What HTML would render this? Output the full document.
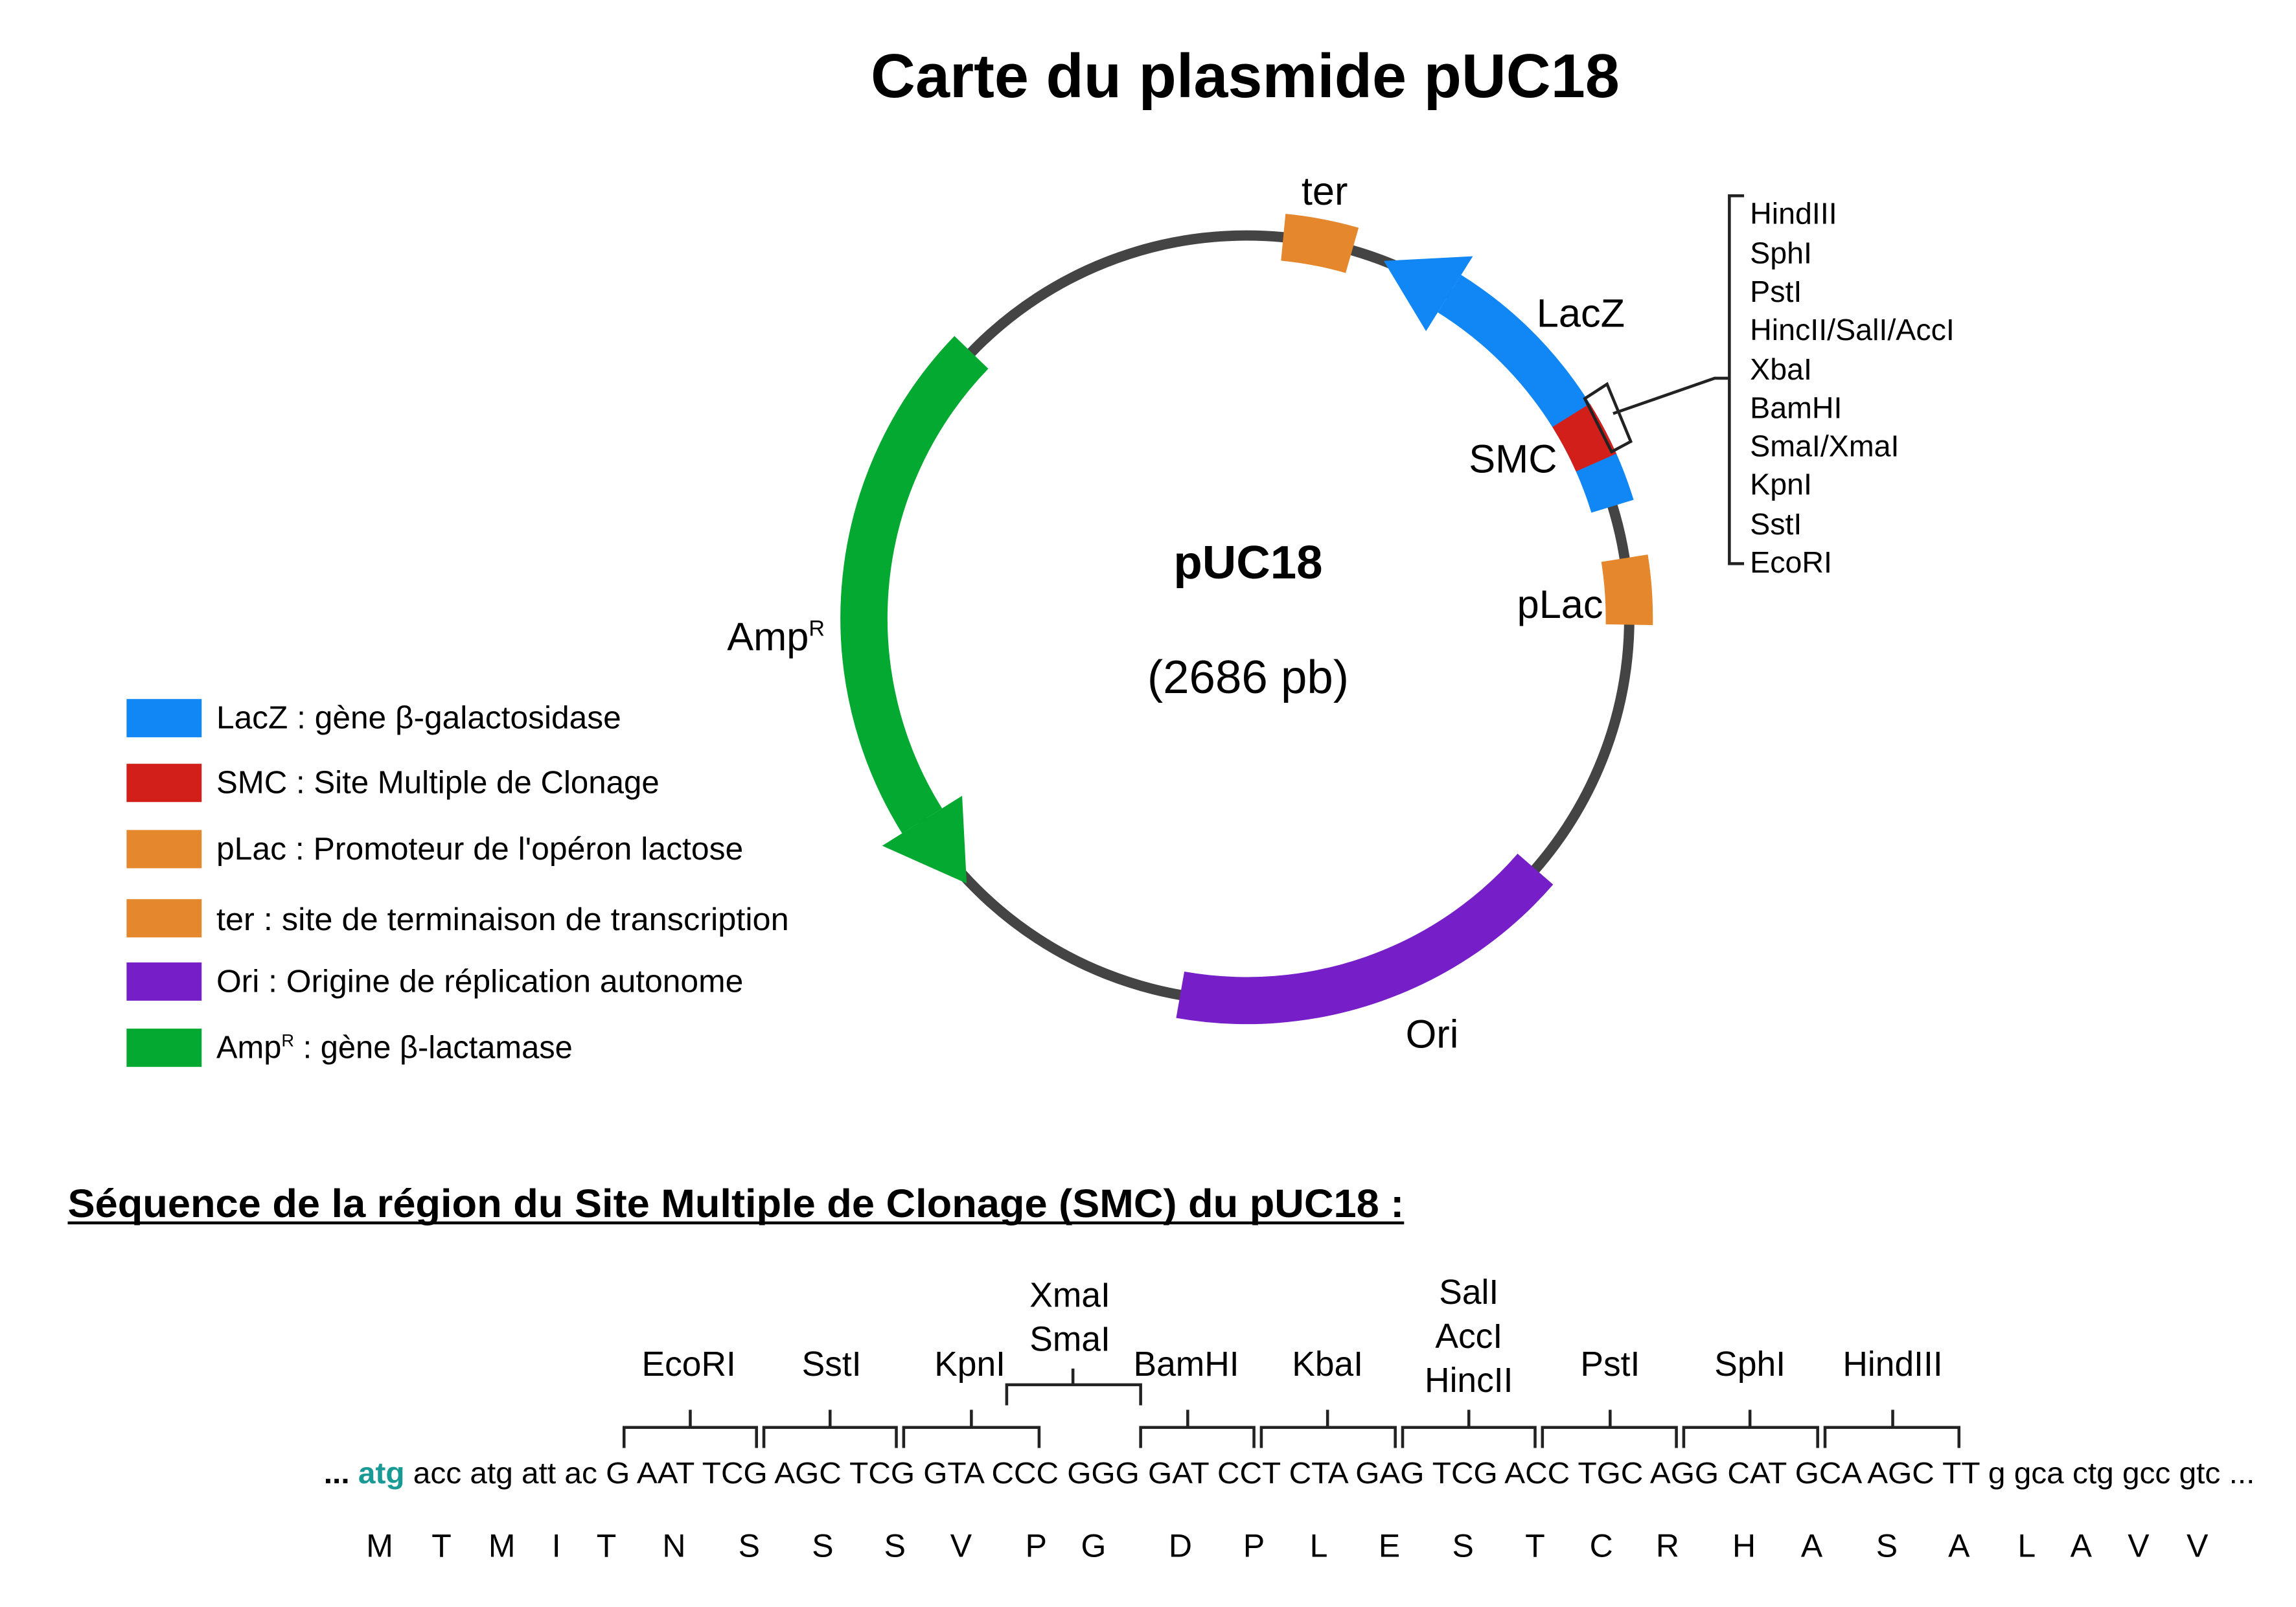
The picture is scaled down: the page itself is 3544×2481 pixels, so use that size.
<!DOCTYPE html>
<html><head><meta charset="utf-8"><style>
html,body{margin:0;padding:0;background:#fff;}
svg{display:block;}
text{font-family:"Liberation Sans",Arial,sans-serif;fill:#000;}
</style></head><body>
<svg width="3544" height="2481" viewBox="0 0 1560 1092" xmlns="http://www.w3.org/2000/svg">
<rect width="1560" height="1092" fill="#fff"/>
<text x="846" y="66" font-size="42" font-weight="bold" text-anchor="middle">Carte du plasmide pUC18</text>

<circle cx="847" cy="420" r="260" fill="none" stroke="#444" stroke-width="7"/>

<path d="M871.9 161.2 A260 260 0 0 1 918.7 170.1" fill="none" stroke="#e5882d" stroke-width="32"/>
<path d="M984.8 199.5 A260 260 0 0 1 1095.6 344.0" fill="none" stroke="#1087f5" stroke-width="30"/>
<polygon points="940.2,177.3 1000.7,174.1 968.9,225" fill="#1087f5"/>
<path d="M1067.5 282.2 A260 260 0 0 1 1084.5 314.3" fill="none" stroke="#d21f19" stroke-width="30"/>
<polygon points="1076.8,270.8 1091.9,261.0 1108,300 1095,307" fill="none" stroke="#222" stroke-width="2"/>
<polyline points="1096,281 1165,257 1175,257" fill="none" stroke="#222" stroke-width="2"/>
<path d="M1103.8 379.3 A260 260 0 0 1 1107.0 424.5" fill="none" stroke="#e5882d" stroke-width="32"/>
<path d="M1043.2 590.6 A260 260 0 0 1 801.9 676.0" fill="none" stroke="#761fc8" stroke-width="32"/>
<path d="M626.5 557.8 A260 260 0 0 1 660.0 239.4" fill="none" stroke="#04a932" stroke-width="32"/>
<polygon points="656.8,600.3 599.4,574.7 653.7,540.8" fill="#04a932"/>

<text x="900" y="139" font-size="27" text-anchor="middle">ter</text>
<text x="1074" y="222" font-size="27" text-anchor="middle">LacZ</text>
<text x="1028" y="321" font-size="27" text-anchor="middle">SMC</text>
<text x="1060" y="420" font-size="27" text-anchor="middle">pLac</text>
<text x="973" y="712" font-size="27" text-anchor="middle">Ori</text>
<text x="494" y="442" font-size="27">Amp<tspan font-size="15" dy="-10">R</tspan></text>
<text x="848" y="393" font-size="32" font-weight="bold" text-anchor="middle">pUC18</text>
<text x="848" y="471" font-size="32" text-anchor="middle">(2686 pb)</text>

<polyline points="1185,133 1175,133 1175,383 1185,383" fill="none" stroke="#222" stroke-width="2"/>
<g font-size="20.5">
<text x="1189" y="152">HindIII</text>
<text x="1189" y="179">SphI</text>
<text x="1189" y="205">PstI</text>
<text x="1189" y="231">HincII/SalI/AccI</text>
<text x="1189" y="258">XbaI</text>
<text x="1189" y="284">BamHI</text>
<text x="1189" y="310">SmaI/XmaI</text>
<text x="1189" y="336">KpnI</text>
<text x="1189" y="363">SstI</text>
<text x="1189" y="389">EcoRI</text>
</g>

<rect x="86" y="475" width="51" height="26" fill="#1087f5"/>
<rect x="86" y="519" width="51" height="26" fill="#d21f19"/>
<rect x="86" y="564" width="51" height="26" fill="#e5882d"/>
<rect x="86" y="611" width="51" height="26" fill="#e5882d"/>
<rect x="86" y="654" width="51" height="26" fill="#761fc8"/>
<rect x="86" y="699" width="51" height="26" fill="#04a932"/>
<g font-size="21.5">
<text x="147" y="495" textLength="275" lengthAdjust="spacingAndGlyphs">LacZ : gène β-galactosidase</text>
<text x="147" y="539" textLength="301" lengthAdjust="spacingAndGlyphs">SMC : Site Multiple de Clonage</text>
<text x="147" y="584" textLength="358" lengthAdjust="spacingAndGlyphs">pLac : Promoteur de l'opéron lactose</text>
<text x="147" y="632" textLength="389" lengthAdjust="spacingAndGlyphs">ter : site de terminaison de transcription</text>
<text x="147" y="674" textLength="358" lengthAdjust="spacingAndGlyphs">Ori : Origine de réplication autonome</text>
<text x="147" y="719">Amp<tspan font-size="12" dy="-8">R</tspan><tspan dy="8"> : gène β-lactamase</tspan></text>
</g>

<text x="46" y="827" font-size="27" font-weight="bold" textLength="908" lengthAdjust="spacingAndGlyphs">Séquence de la région du Site Multiple de Clonage (SMC) du pUC18 :</text>
<line x1="46" y1="831" x2="954" y2="831" stroke="#000" stroke-width="2"/>

<g fill="none" stroke="#222" stroke-width="2">
<path d="M424 984V970H514V984M469 970V958"/>
<path d="M519 984V970H609V984M564 970V958"/>
<path d="M614 984V970H706V984M660 970V958"/>
<path d="M775 984V970H852V984M807 970V958"/>
<path d="M857 984V970H948V984M902 970V958"/>
<path d="M953 984V970H1043V984M998 970V958"/>
<path d="M1048 984V970H1139V984M1094 970V958"/>
<path d="M1144 984V970H1235V984M1189 970V958"/>
<path d="M1240 984V970H1331V984M1286 970V958"/>
<path d="M684 955V941H775V955M729 941V930"/>
</g>
<g font-size="23.5" text-anchor="middle">
<text x="468" y="935">EcoRI</text>
<text x="565" y="935">SstI</text>
<text x="659" y="935">KpnI</text>
<text x="806" y="935">BamHI</text>
<text x="902" y="935">KbaI</text>
<text x="1094" y="935">PstI</text>
<text x="1189" y="935">SphI</text>
<text x="1286" y="935">HindIII</text>
<text x="727" y="888">XmaI</text>
<text x="727" y="918">SmaI</text>
<text x="998" y="886">SalI</text>
<text x="998" y="916">AccI</text>
<text x="998" y="946">HincII</text>
</g>

<text x="220" y="1008" font-size="20.5" textLength="1312" lengthAdjust="spacingAndGlyphs"><tspan font-weight="bold">...</tspan> <tspan font-weight="bold" fill="#1a9a95">atg</tspan> acc atg att ac G AAT TCG AGC TCG GTA CCC GGG GAT CCT CTA GAG TCG ACC TGC AGG CAT GCA AGC TT g gca ctg gcc gtc ...</text>

<g font-size="22" text-anchor="middle">
<text x="258" y="1058">M</text><text x="300" y="1058">T</text><text x="341" y="1058">M</text>
<text x="378" y="1058">I</text><text x="412" y="1058">T</text><text x="458" y="1058">N</text>
<text x="509" y="1058">S</text><text x="559" y="1058">S</text><text x="608" y="1058">S</text>
<text x="653" y="1058">V</text><text x="704" y="1058">P</text><text x="743" y="1058">G</text>
<text x="802" y="1058">D</text><text x="852" y="1058">P</text><text x="896" y="1058">L</text>
<text x="944" y="1058">E</text><text x="994" y="1058">S</text><text x="1043" y="1058">T</text>
<text x="1088" y="1058">C</text><text x="1133" y="1058">R</text><text x="1185" y="1058">H</text>
<text x="1231" y="1058">A</text><text x="1282" y="1058">S</text><text x="1331" y="1058">A</text>
<text x="1377" y="1058">L</text><text x="1414" y="1058">A</text><text x="1453" y="1058">V</text>
<text x="1493" y="1058">V</text>
</g>
</svg>
</body></html>
